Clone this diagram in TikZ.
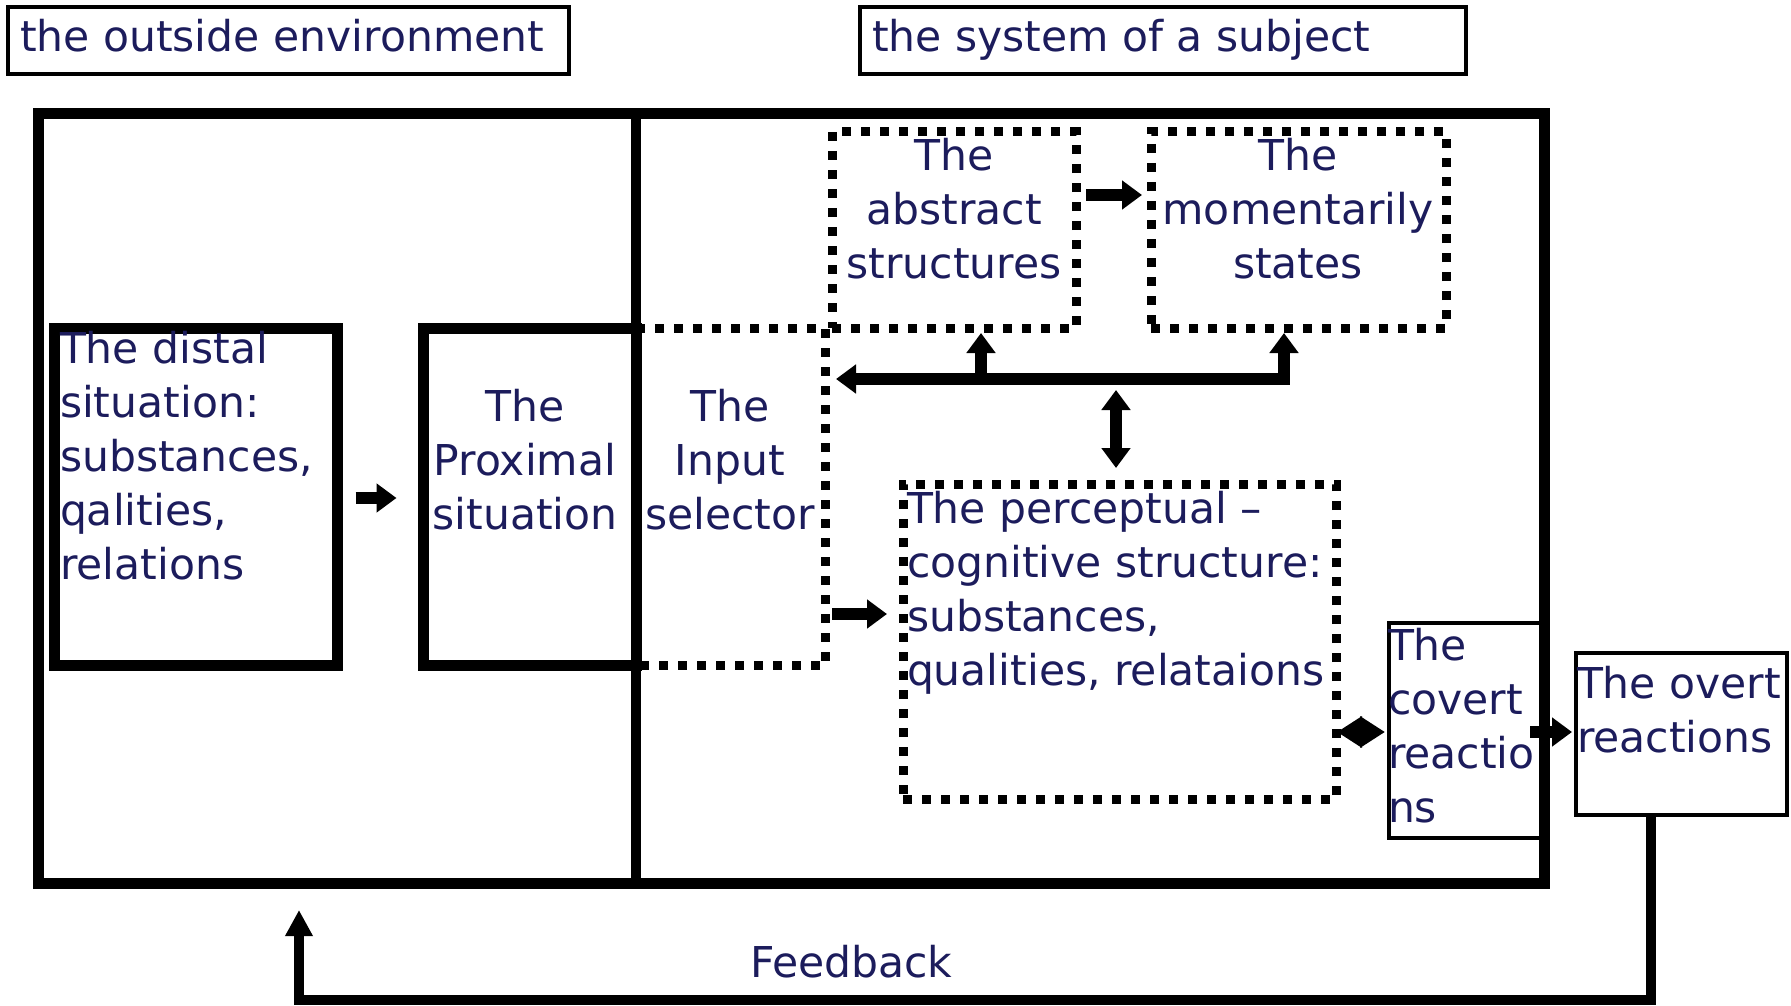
\documentclass[tikz,border=0pt]{standalone}
\usepackage{fontspec}
\setmainfont{DejaVu Sans}
\usetikzlibrary{arrows.meta,fit}
\definecolor{txtc}{RGB}{28,28,92}
\begin{document}
\begin{tikzpicture}[x=1pt,y=-1pt,
  txt/.style={inner sep=0pt, outer sep=0pt, text=txtc, font=\fontsize{42.5}{54}\selectfont},
  thickbox/.style={draw, line width=11pt, inner sep=0pt, outer sep=0pt},
  thinbox/.style={draw, line width=4pt, inner sep=0pt, outer sep=0pt},
  dotbox/.style={draw, line width=9pt, dash pattern=on 9pt off 10pt, inner sep=0pt, outer sep=0pt},
  dotline/.style={line width=9pt, dash pattern=on 9pt off 10pt},
  fat/.style={line width=12pt, -{Triangle[length=20pt,width=28pt]}},
  fatboth/.style={line width=12pt, {Triangle[length=20pt,width=28pt]}-{Triangle[length=20pt,width=28pt]}},
  feed/.style={line width=10pt, -{Triangle[length=26pt,width=26pt]}},
]
\useasboundingbox[fill=white] (0,0) rectangle (1791,1006);

% header boxes
\node[thinbox, fit={(8,7.5) (569,74)}] (envbox) {};
\node[thinbox, fit={(860,7) (1466,74)}] (sysbox) {};

% outer frame and divider
\node[thickbox, fit={(38.5,113.5) (1544,883.5)}] (outer) {};
\coordinate (divx) at (636,0);
\draw[line width=10pt] (outer.north -| divx) -- (outer.south -| divx);

% solid boxes
\node[thickbox, fit={(54.5,328) (337.5,665.5)}] (distal) {};
\node[thickbox, fit={(423.5,328) (636,665.5)}] (prox) {};

% input selector (dotted)
\coordinate (inselx) at (825,0);
\draw[dotline] (prox.north east) -- (prox.north east -| inselx) -- (prox.south east -| inselx) -- (prox.south east);

% dotted boxes
\node[dotbox, fit={(832,132) (1076,328)}] (abstract) {};
\node[dotbox, fit={(1151,132) (1446,328)}] (moment) {};
\node[dotbox, fit={(903,484) (1336,799)}] (percep) {};

% reaction boxes
\node[thinbox, fit={(1389,623) (1544,838)}] (covert) {};
\node[thinbox, fit={(1576,653) (1787,814.5)}] (overt) {};

% texts (base anchor = baseline of the last line)
\node[txt, anchor=base west] (envt) at (20,52) {the outside environment};
\node[txt, anchor=base west] (syst) at (872,52) {the system of a subject};
\node[txt, anchor=base west, align=left] (distalt) at (60,579) {The distal\\situation:\\substances,\\qalities,\\relations};
\node[txt, anchor=base, align=center] (proxt) at (525,529) {The\\Proximal\\situation};
\node[txt, anchor=base, align=center] (inselt) at (730,529) {The\\Input\\selector};
\node[txt, anchor=base, align=center] (abst) at (954,278) {The\\abstract\\structures};
\node[txt, anchor=base, align=center] (momt) at (1298,278) {The\\momentarily\\states};
\node[txt, anchor=base west, align=left] (perct) at (907,685) {The perceptual –\\cognitive structure:\\substances,\\qualities, relataions};
\node[txt, anchor=base west, align=left] (covt) at (1388,822) {The\\covert\\reactio\\ns};
\node[txt, anchor=base west, align=left] (ovt) at (1577,752) {The overt\\reactions};
\node[txt, anchor=base west] (fbt) at (750,977) {Feedback};

% connectors
\coordinate (dpy) at (0,498);
\draw[fat, shorten <=18pt, shorten >=27pt] (distal.east |- dpy) -- (prox.west |- dpy);

\coordinate (amy) at (0,195);
\draw[fat, shorten <=10pt, shorten >=9pt] (abstract.east |- amy) -- (moment.west |- amy);

\coordinate (busy) at (0,379);
\coordinate (bxA) at (981,0);
\coordinate (bxM) at (1284,0);
\draw[fatboth, shorten <=11pt, shorten >=5pt] (inselx |- busy) -| (moment.south -| bxM);
\draw[fat, shorten >=5pt] (bxA |- busy) -- (abstract.south -| bxA);

\coordinate (vx) at (1116,0);
\draw[fatboth, shorten <=11pt, shorten >=16pt] (vx |- busy) -- (percep.north -| vx);

\coordinate (ipy) at (0,614);
\draw[fat, shorten <=7pt, shorten >=16pt] (inselx |- ipy) -- (percep.west |- ipy);

\coordinate (pcy) at (0,732);
\draw[line width=12pt, {Triangle[length=25pt,width=30pt]}-{Triangle[length=25pt,width=30pt]}, shorten <=1pt, shorten >=4pt] (percep.east |- pcy) -- (covert.west |- pcy);

\draw[fat, shorten <=-14pt, shorten >=4pt] (covert.east |- pcy) -- (overt.west |- pcy);

\coordinate (fbx) at (1651,0);
\coordinate (fbbot) at (0,1000);
\coordinate (fbtip) at (299,910);
\draw[feed] (overt.south -| fbx) -- (fbx |- fbbot) -| (fbtip);
\end{tikzpicture}
\end{document}
